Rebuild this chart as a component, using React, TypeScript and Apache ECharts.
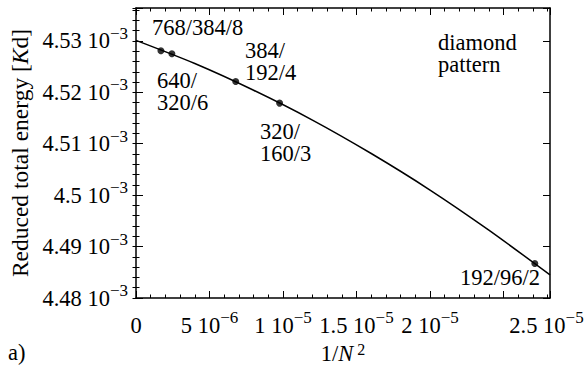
import React, { useEffect, useRef } from "react";
import * as echarts from "echarts";

// Data (energies in units of 10^-3 Kd)
const pointLabels = ["768/384/8", "640/\n320/6", "384/\n192/4", "320/\n160/3", "192/96/2"];
const invN2 = [1.695e-6, 2.441e-6, 6.782e-6, 9.766e-6, 2.7127e-5];
const energy = [4.5281, 4.5275, 4.5221, 4.5179, 4.4867];
// fitted curve
const fitX = [0, 4e-6, 8e-6, 1.2e-5, 1.6e-5, 2.0e-5, 2.4e-5, 2.816e-5];
const fitY = [4.5301, 4.5256, 4.5204, 4.5146, 4.5081, 4.501, 4.4932, 4.4845];
const xTickMain = ["0", "5 10", "1 10", "1.5 10", "2 10", "2.5 10"];
const xTickExp = ["", "−6", "−5", "−5", "−5", "−5"];
const yTickMain = ["4.48 10", "4.49 10", "4.5 10", "4.51 10", "4.52 10", "4.53 10"];
const yTickExp = ["−3", "−3", "−3", "−3", "−3", "−3"];

const FONT = "Liberation Serif";
const X_MIN = 0, X_MAX = 2.816e-5, X_INT = 5e-6, X_MINOR = 1e-6;
const Y_MIN = 4.48, Y_MAX = 4.5364, Y_INT = 0.01, Y_MINOR = 0.002;

const rich = {
  m: { fontFamily: FONT, fontSize: 22.5, lineHeight: 32, verticalAlign: "middle", color: "#000" },
  s: { fontFamily: FONT, fontSize: 17, lineHeight: 17, verticalAlign: "top", color: "#000" },
  p: { fontFamily: FONT, fontSize: 22.5, lineHeight: 32, width: 86 },
};
const nameRich = {
  m: { fontFamily: FONT, fontSize: 22.5, lineHeight: 24, verticalAlign: "middle", color: "#000" },
  i: { fontFamily: FONT, fontSize: 22.5, fontStyle: "italic", lineHeight: 24, verticalAlign: "middle", color: "#000" },
  s: { fontFamily: FONT, fontSize: 16, lineHeight: 14, verticalAlign: "top", color: "#000" },
};

const lineStyle = { color: "#000", width: 1.5 };
const tickStyle = { color: "#000", width: 1 };

export default function App() {
  const ref = useRef<HTMLDivElement>(null);
  useEffect(() => {
    if (!ref.current) return;
    const chart = echarts.init(ref.current, null, { renderer: "svg" });

    const xFmt = (v: number) => {
      const i = Math.round(v / X_INT);
      if (Math.abs(v - i * X_INT) > 1e-9 || i < 0 || i >= xTickMain.length) return "";
      let s = `{m|${xTickMain[i]}}`;
      if (xTickExp[i]) s += `{s|${xTickExp[i]}}`;
      if (i === xTickMain.length - 1) s = `{p|\u00a0}` + s;
      return s;
    };
    const yFmt = (v: number) => {
      const i = Math.round((v - Y_MIN) / Y_INT);
      if (Math.abs(v - (Y_MIN + i * Y_INT)) > 1e-6 || i < 0 || i >= yTickMain.length) return "";
      return `{m|${yTickMain[i]}}{s|${yTickExp[i]}}`;
    };

    const xBase = { type: "value", min: X_MIN, max: X_MAX, splitLine: { show: false } };
    const yBase = { type: "value", min: Y_MIN, max: Y_MAX, splitLine: { show: false } };
    const txt = (text: string, x: number, y: number, align = "left") => ({
      type: "text",
      x,
      y,
      style: { text, fontFamily: FONT, fontSize: 22.5, lineHeight: 22, fill: "#000", align, verticalAlign: "top" },
    });
    const minorTicks = { show: true, inside: true, length: 3.5, lineStyle: tickStyle };
    const majorTicks = { show: true, inside: true, length: 7, lineStyle: tickStyle };

    chart.setOption({
      animation: false,
      backgroundColor: "#fff",
      grid: { left: 136, right: 36, top: 8, bottom: 68, containLabel: false, outerBoundsMode: "none" },
      xAxis: [
        {
          ...xBase, position: "bottom", interval: X_INT,
          axisLine: { show: true, onZero: false, lineStyle },
          axisTick: majorTicks,
          axisLabel: { show: true, margin: 11, formatter: xFmt, rich },
          name: "{m|1/}{i|N}{s| 2}", nameLocation: "middle", nameGap: 39,
          nameTextStyle: { rich: nameRich },
        },
        {
          ...xBase, position: "bottom", interval: X_MINOR,
          axisLine: { show: false }, axisTick: minorTicks, axisLabel: { show: false },
        },
        {
          ...xBase, position: "top", interval: X_INT,
          axisLine: { show: true, onZero: false, lineStyle }, axisTick: majorTicks, axisLabel: { show: false },
        },
        {
          ...xBase, position: "top", interval: X_MINOR,
          axisLine: { show: false }, axisTick: minorTicks, axisLabel: { show: false },
        },
      ],
      yAxis: [
        {
          ...yBase, position: "left", interval: Y_INT,
          axisLine: { show: true, onZero: false, lineStyle },
          axisTick: majorTicks,
          axisLabel: { show: true, margin: 8, formatter: yFmt, rich },
          name: "{n|Reduced total energy [}{k|K}{n|d]}",
          nameLocation: "middle", nameGap: 103,
          nameTextStyle: {
            rich: {
              n: { fontFamily: FONT, fontSize: 23.5, lineHeight: 24, color: "#000" },
              k: { fontFamily: FONT, fontSize: 23.5, fontStyle: "italic", lineHeight: 24, color: "#000" },
            },
          },
        },
        {
          ...yBase, position: "left", interval: Y_MINOR,
          axisLine: { show: false }, axisTick: minorTicks, axisLabel: { show: false },
        },
        {
          ...yBase, position: "right", interval: Y_INT,
          axisLine: { show: true, onZero: false, lineStyle }, axisTick: majorTicks, axisLabel: { show: false },
        },
        {
          ...yBase, position: "right", interval: Y_MINOR,
          axisLine: { show: false }, axisTick: minorTicks, axisLabel: { show: false },
        },
      ],
      series: [
        {
          type: "line",
          xAxisIndex: 0,
          yAxisIndex: 0,
          data: fitX.map((x, k) => [x, fitY[k]]),
          smooth: 0.25,
          showSymbol: false,
          symbol: "none",
          lineStyle: { color: "#000", width: 1.5 },
          silent: true,
        },
        {
          type: "scatter",
          xAxisIndex: 0,
          yAxisIndex: 0,
          data: invN2.map((x, k) => [x, energy[k]]),
          symbol: "circle",
          symbolSize: 7,
          itemStyle: { color: "#000" },
        },
      ],
      graphic: [
        txt(pointLabels[0], 152, 16),
        txt(pointLabels[1], 157, 69),
        txt(pointLabels[2], 245, 39),
        txt(pointLabels[3], 260, 120),
        txt(pointLabels[4], 540, 266, "right"),
        txt("diamond\npattern", 438, 31),
        txt("a)", 8, 341),
      ],
    });
    return () => chart.dispose();
  }, []);
  return (
    <div
      ref={ref}
      style={{ position: "fixed", left: 0, top: 0, width: 586, height: 366, background: "#fff" }}
    />
  );
}
